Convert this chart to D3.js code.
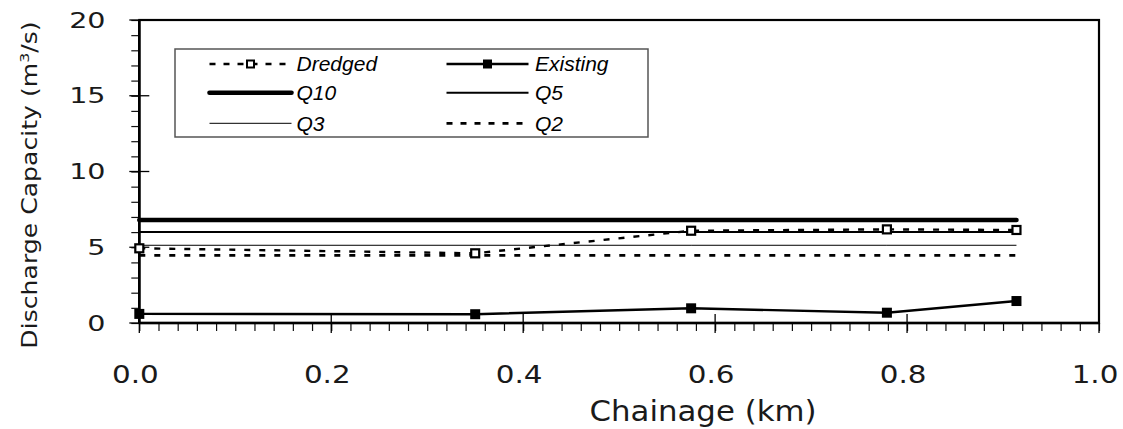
<!DOCTYPE html>
<html>
<head>
<meta charset="utf-8">
<script src="https://cdn.jsdelivr.net/npm/d3@7"></script>
<style>
  html, body { margin: 0; padding: 0; background: #fff; }
  svg { display: block; }
</style>
</head>
<body>
<svg id="chart" width="1123" height="429"></svg>
<script>
// ---------------- data ----------------
const chainage = [0, 0.35, 0.575, 0.779, 0.914];
const dredged  = [4.93, 4.6, 6.09, 6.18, 6.14];
const existing = [0.6, 0.58, 0.97, 0.68, 1.45];
const q10 = [6.8, 6.8, 6.8, 6.8, 6.8];
const q5  = [6.0, 6.0, 6.0, 6.0, 6.0];
const q3  = [5.13, 5.13, 5.13, 5.13, 5.13];
const q2  = [4.47, 4.47, 4.47, 4.47, 4.47];

const xTicks = [0, 0.2, 0.4, 0.6, 0.8, 1.0];
const xTickLabels = ["0.0", "0.2", "0.4", "0.6", "0.8", "1.0"];
const yTicks = [0, 5, 10, 15, 20];
const yTickLabels = ["0", "5", "10", "15", "20"];
const xMinor = d3.range(0, 50).map(i => i * 0.02).concat([1.0]);
const yMinor = d3.range(0, 21);

// ---------------- layout ----------------
const svg = d3.select("#chart");
const x = d3.scaleLinear().domain([0, 1]).range([139.3, 1099]);
const y = d3.scaleLinear().domain([0, 20]).range([323, 20]);
const AXFONT = "'DejaVu Sans', Verdana, sans-serif";

function stext(g, px, py, str, size, sx, anchor, rot) {
  const t = g.append("text")
    .attr("transform", `translate(${px},${py})${rot ? " rotate(" + rot + ")" : ""} scale(${sx},1)`)
    .attr("text-anchor", anchor)
    .attr("font-family", AXFONT)
    .attr("font-size", size)
    .attr("fill", "#1a1a1a");
  if (str !== null) t.text(str);
  return t;
}

// minor ticks (outside)
svg.append("g")
  .attr("transform", `translate(0,${y(0)})`)
  .call(d3.axisBottom(x).tickValues(xMinor).tickSize(8).tickFormat(""))
  .call(g => g.select(".domain").remove())
  .call(g => g.selectAll("line").attr("stroke", "#111").attr("stroke-width", 1.2));
svg.append("g")
  .attr("transform", `translate(${x(0)},0)`)
  .call(d3.axisLeft(y).tickValues(yMinor).tickSize(8).tickFormat(""))
  .call(g => g.select(".domain").remove())
  .call(g => g.selectAll("line").attr("stroke", "#111").attr("stroke-width", 1.2));

// major ticks (crossing)
svg.append("g").selectAll("line").data(xTicks).join("line")
  .attr("x1", d => x(d)).attr("x2", d => x(d))
  .attr("y1", y(0) - 9).attr("y2", y(0) + 10)
  .attr("stroke", "#000").attr("stroke-width", 1.3);
svg.append("g").selectAll("line").data(yTicks).join("line")
  .attr("y1", d => y(d)).attr("y2", d => y(d))
  .attr("x1", x(0) - 10).attr("x2", x(0) + 10)
  .attr("stroke", "#000").attr("stroke-width", 1.3);

// frame
svg.append("rect")
  .attr("x", x(0)).attr("y", y(20))
  .attr("width", x(1) - x(0)).attr("height", y(0) - y(20))
  .attr("fill", "none").attr("stroke", "#000").attr("stroke-width", 2.2);
svg.append("line").attr("x1", x(0)).attr("x2", x(1)).attr("y1", y(0)).attr("y2", y(0))
  .attr("stroke", "#000").attr("stroke-width", 2.6);
svg.append("line").attr("x1", x(0)).attr("x2", x(0)).attr("y1", y(0)).attr("y2", y(20))
  .attr("stroke", "#000").attr("stroke-width", 2.6);

// tick labels
const tl = svg.append("g");
xTicks.forEach((v, i) => stext(tl, x(v) - 4, y(0) + 60.3, xTickLabels[i], 24.5, 1.2, "middle"));
yTicks.forEach((v, i) => stext(tl, 105.5, y(v) + 7.6, yTickLabels[i], 21.5, 1.33, "end"));

// axis titles
stext(svg, 703, 421, "Chainage (km)", 28, 1.1, "middle");
const yt = stext(svg, 36.5, 185, null, 20.6, 1.22, "middle", -90);
yt.append("tspan").text("Discharge Capacity (m");
yt.append("tspan").attr("font-size", 13).attr("dy", -8).text("3");
yt.append("tspan").attr("dy", 8).text("/s)");

// ---------------- series ----------------
const line = d3.line().x((d, i) => x(chainage[i])).y(d => y(d));
const plot = svg.append("g");
plot.append("path").datum(q2).attr("d", line).attr("fill", "none")
  .attr("stroke", "#000").attr("stroke-width", 2.8).attr("stroke-dasharray", "6,9");
plot.append("path").datum(q3).attr("d", line).attr("fill", "none")
  .attr("stroke", "#000").attr("stroke-width", 1);
plot.append("path").datum(q5).attr("d", line).attr("fill", "none")
  .attr("stroke", "#000").attr("stroke-width", 2);
plot.append("path").datum(q10).attr("d", line).attr("fill", "none")
  .attr("stroke", "#000").attr("stroke-width", 4.6).attr("stroke-linecap", "round");

plot.append("path").datum(existing).attr("d", line).attr("fill", "none")
  .attr("stroke", "#000").attr("stroke-width", 2.4);
plot.append("g").selectAll("rect").data(existing).join("rect")
  .attr("x", (d, i) => x(chainage[i]) - 5).attr("y", d => y(d) - 5)
  .attr("width", 10).attr("height", 10).attr("fill", "#000");

plot.append("path").datum(dredged).attr("d", line).attr("fill", "none")
  .attr("stroke", "#000").attr("stroke-width", 2.4).attr("stroke-dasharray", "6,9");
plot.append("g").selectAll("rect").data(dredged).join("rect")
  .attr("x", (d, i) => x(chainage[i]) - 4).attr("y", d => y(d) - 4)
  .attr("width", 8).attr("height", 8).attr("fill", "#fff")
  .attr("stroke", "#000").attr("stroke-width", 2.2);

// ---------------- legend ----------------
const lg = svg.append("g");
lg.append("rect").attr("x", 175).attr("y", 49).attr("width", 473).attr("height", 88)
  .attr("fill", "#fff").attr("stroke", "#555").attr("stroke-width", 1.5);

const legendItems = [
  { name: "Dredged",  col: 0, row: 0, w: 2.6, dash: "6,8", marker: "open" },
  { name: "Existing", col: 1, row: 0, w: 2.4, dash: null,  marker: "filled" },
  { name: "Q10",      col: 0, row: 1, w: 4.6, dash: null,  marker: null, cap: "round" },
  { name: "Q5",       col: 1, row: 1, w: 2,   dash: null,  marker: null },
  { name: "Q3",       col: 0, row: 2, w: 1,   dash: null,  marker: null },
  { name: "Q2",       col: 1, row: 2, w: 2.8, dash: "6,8", marker: null }
];
const colX = [[209.5, 291.5, 296.5], [446.5, 528.5, 535]];
const rowY = [64, 92.7, 123.3];
legendItems.forEach(it => {
  const [x1, x2, tx] = colX[it.col];
  const yy = rowY[it.row];
  const l = lg.append("line").attr("x1", x1).attr("x2", x2).attr("y1", yy).attr("y2", yy)
    .attr("stroke", "#000").attr("stroke-width", it.w);
  if (it.dash) l.attr("stroke-dasharray", it.dash);
  if (it.cap) l.attr("stroke-linecap", it.cap);
  const mx = (x1 + x2) / 2;
  if (it.marker === "open") {
    lg.append("rect").attr("x", mx - 3.5).attr("y", yy - 3.5).attr("width", 7).attr("height", 7)
      .attr("fill", "#fff").attr("stroke", "#000").attr("stroke-width", 2);
  } else if (it.marker === "filled") {
    lg.append("rect").attr("x", mx - 4.5).attr("y", yy - 4.5).attr("width", 9).attr("height", 9)
      .attr("fill", "#000");
  }
  lg.append("text").attr("x", tx).attr("y", yy + 7.4)
    .attr("font-family", "'Liberation Sans', Arial, sans-serif")
    .attr("font-style", "italic").attr("font-size", 21).attr("fill", "#000")
    .text(it.name);
});
</script>
</body>
</html>
